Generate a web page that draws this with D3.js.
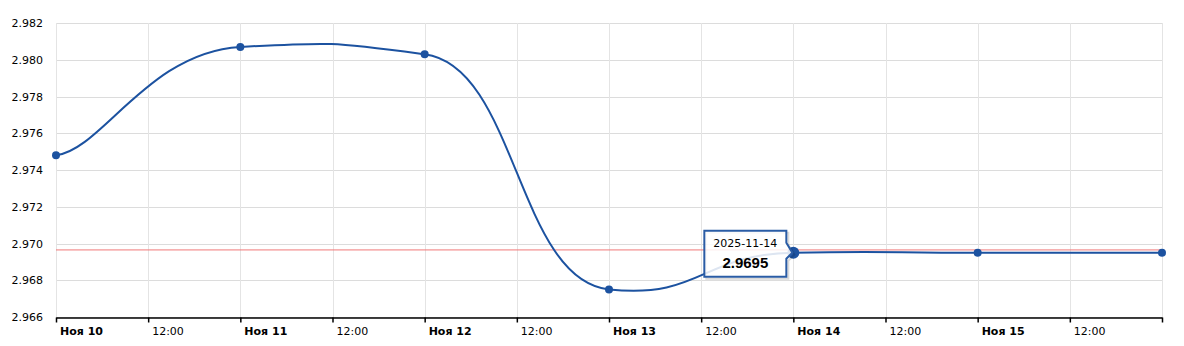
<!DOCTYPE html>
<html lang="ru">
<head>
    <meta charset="UTF-8">
    <title>Курс</title>
    <script src="https://d3js.org/d3.v7.min.js"></script>
    <style>
        body { margin: 0; background: #fff; }
        svg { display: block; font-family: "DejaVu Sans", Verdana, sans-serif; }
    </style>
</head>
<body>
<svg width="1184" height="346"></svg>
<script>
    // данные
    const dates = ["2025-11-10", "2025-11-11", "2025-11-12", "2025-11-13", "2025-11-14", "2025-11-15", "2025-11-16"];
    const values = [2.9748, 2.9807, 2.9803, 2.9675, 2.9695, 2.9695, 2.9695];
    const refValue = 2.96965;
    const yTicks = [2.966, 2.968, 2.970, 2.972, 2.974, 2.976, 2.978, 2.980, 2.982];
    const monthShort = "Ноя";
    const hoverIndex = 4;

    const parse = d3.timeParse("%Y-%m-%d");
    const data = dates.map((d, i) => ({ date: parse(d), value: values[i], label: d }));

    const svg = d3.select("svg");
    const margin = { left: 56, right: 22, top: 23, bottom: 29 };
    const W = 1184, H = 346;

    const x = d3.scaleTime()
        .domain([parse("2025-11-10"), parse("2025-11-16")])
        .range([margin.left, W - margin.right]);

    const y = d3.scaleLinear()
        .domain([2.966, 2.982])
        .range([H - margin.bottom, margin.top]);

    const xTicks = d3.timeHour.every(12).range(x.domain()[0], d3.timeHour.offset(x.domain()[1], 1));

    // сетка
    svg.append("g")
        .selectAll("line")
        .data(yTicks)
        .join("line")
        .attr("x1", margin.left).attr("x2", W - margin.right)
        .attr("y1", d => Math.round(y(d)) + 0.5).attr("y2", d => Math.round(y(d)) + 0.5)
        .attr("stroke", "#dcdcdc");

    svg.append("g")
        .selectAll("line")
        .data(xTicks)
        .join("line")
        .attr("x1", d => Math.round(x(d)) + 0.5).attr("x2", d => Math.round(x(d)) + 0.5)
        .attr("y1", margin.top).attr("y2", H - margin.bottom)
        .attr("stroke", "#e4e4e4");

    // ось X
    const xAxis = svg.append("g")
        .attr("transform", `translate(0, ${H - margin.bottom + 0.5})`)
        .call(d3.axisBottom(x).tickValues(xTicks).tickSize(5).tickSizeOuter(0).tickFormat(""));
    xAxis.select(".domain").attr("stroke", "#000").attr("stroke-width", 1.5);
    xAxis.selectAll(".tick line").attr("stroke", "#000").attr("stroke-width", 1.5);

    svg.append("g")
        .selectAll("text")
        .data(xTicks.filter(d => d < x.domain()[1]))
        .join("text")
        .attr("x", d => x(d) + 4)
        .attr("y", H - 11)
        .attr("font-size", 11)
        .attr("font-weight", d => d.getHours() === 0 ? "bold" : "normal")
        .attr("fill", "#000")
        .text(d => d.getHours() === 0 ? `${monthShort} ${d.getDate()}` : d3.timeFormat("%H:%M")(d));

    // ось Y
    svg.append("g")
        .selectAll("text")
        .data(yTicks)
        .join("text")
        .attr("x", 43)
        .attr("y", d => y(d) + 4)
        .attr("text-anchor", "end")
        .attr("font-size", 11)
        .attr("fill", "#000")
        .text(d => d3.format(".3f")(d));

    // опорная линия
    svg.append("line")
        .attr("x1", margin.left).attr("x2", W - margin.right)
        .attr("y1", y(refValue)).attr("y2", y(refValue))
        .attr("stroke", "#f07878").attr("stroke-width", 1);

    // сглаженная линия: контрольные точки = соседи / 4 по x и / 20 по y
    const bezX = 4, bezY = 20;
    function smoothPath(pts) {
        const path = d3.path();
        path.moveTo(pts[0][0], pts[0][1]);
        for (let i = 0; i < pts.length - 1; i++) {
            const g = pts[i], h = pts[i + 1];
            const f = i === 0 ? g : pts[i - 1];
            const k = i === pts.length - 2 ? h : pts[i + 2];
            path.bezierCurveTo(
                g[0] + (h[0] - f[0]) / bezX, g[1] + (h[1] - f[1]) / bezY,
                h[0] - (k[0] - g[0]) / bezX, h[1] - (k[1] - g[1]) / bezY,
                h[0], h[1]);
        }
        return path.toString();
    }

    const pts = data.map(d => [x(d.date), y(d.value)]);
    const lineColor = "#1c52a0";

    svg.append("path")
        .attr("d", smoothPath(pts))
        .attr("fill", "none")
        .attr("stroke", lineColor)
        .attr("stroke-width", 2);

    svg.append("g")
        .selectAll("circle")
        .data(data)
        .join("circle")
        .attr("cx", d => x(d.date))
        .attr("cy", d => y(d.value))
        .attr("r", (d, i) => i === hoverIndex ? 6 : 4)
        .attr("fill", lineColor);

    // подсказка
    const hp = data[hoverIndex];
    const px = x(hp.date), py = y(hp.value);
    const bx1 = px - 89, bx2 = px - 7, by1 = py - 22, by2 = py + 24;
    const tipShape = `M${bx1},${by1}H${bx2}V${py - 10}L${px - 1},${py}L${bx2},${py + 6}V${by2}H${bx1}Z`;
    const tip = svg.append("g");
    tip.append("path")
        .attr("d", tipShape)
        .attr("transform", "translate(2,2)")
        .attr("fill", "none")
        .attr("stroke", "rgba(0,0,0,0.15)")
        .attr("stroke-width", 2);
    tip.append("path")
        .attr("d", tipShape)
        .attr("fill", "rgba(255,255,255,0.85)")
        .attr("stroke", "#2a5ca5")
        .attr("stroke-width", 2);
    tip.append("text")
        .attr("x", (bx1 + bx2) / 2)
        .attr("y", by1 + 16)
        .attr("text-anchor", "middle")
        .attr("font-size", 11)
        .attr("fill", "#000")
        .text(hp.label);
    tip.append("text")
        .attr("x", (bx1 + bx2) / 2)
        .attr("y", by1 + 37)
        .attr("text-anchor", "middle")
        .attr("font-family", "'Liberation Sans', Arial, sans-serif")
        .attr("font-size", 15)
        .attr("font-weight", "bold")
        .attr("fill", "#000")
        .text(d3.format(".4f")(hp.value));
</script>
</body>
</html>
